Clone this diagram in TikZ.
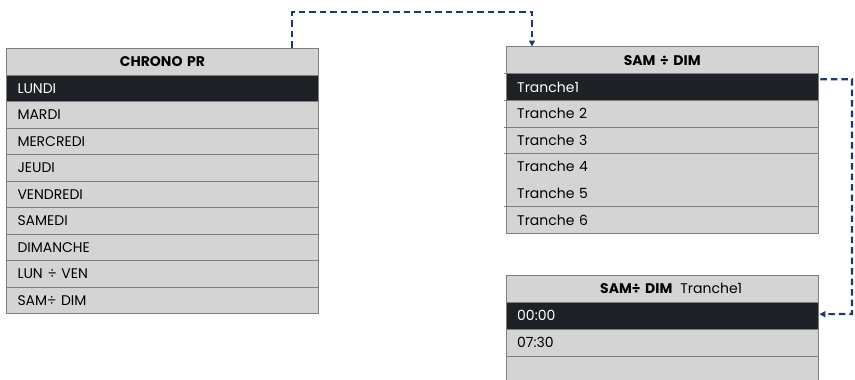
\documentclass[tikz,border=0pt]{standalone}
\usepackage{fontspec}
\setmainfont{Poppins}
\usetikzlibrary{arrows.meta,calc}
\definecolor{cellfill}{HTML}{D3D4D3}
\definecolor{cellline}{HTML}{7F7F7F}
\definecolor{darkrow}{HTML}{1E2226}
\definecolor{connblue}{HTML}{1B3B6F}
\begin{document}
\begin{tikzpicture}[x=1pt,y=-1pt,
  cellbase/.style={anchor=north west, inner xsep=11pt, inner ysep=0pt,
    text width=290pt, font=\fontsize{14}{16}\selectfont},
  lrow/.style={cellbase, align=left, fill=cellfill, draw=cellline, line width=1pt, minimum height=26.5pt},
  lhdr/.style={cellbase, align=center, fill=cellfill, draw=cellline, line width=1pt, minimum height=27pt, font=\fontsize{14}{16}\selectfont\bfseries},
  rrow/.style={cellbase, align=left, fill=cellfill, minimum height=26.6pt},
  rhdr/.style={cellbase, align=center, fill=cellfill, minimum height=27pt, font=\fontsize{14}{16}\selectfont\bfseries},
  darkcell/.style={fill=darkrow, text=white},
  sep/.style={draw=cellline, line width=1pt},
  conn/.style={draw=connblue, line width=2.2pt, dash pattern=on 6.5pt off 4pt},
  tip/.style={-{Triangle[length=6pt,width=6pt]}}
]
\clip (0,0) rectangle (855,380);
\fill[white] (0,0) rectangle (855,380);

% left table
\node[lhdr] (lh) at (6,47.5) {CHRONO PR};
\node[lrow,darkcell] (l1) at (6,74.5) {LUNDI};
\node[lrow] (l2) at (6,101) {MARDI};
\node[lrow] (l3) at (6,127.5) {MERCREDI};
\node[lrow] (l4) at (6,154) {JEUDI};
\node[lrow] (l5) at (6,180.5) {VENDREDI};
\node[lrow] (l6) at (6,207) {SAMEDI};
\node[lrow] (l7) at (6,233.5) {DIMANCHE};
\node[lrow] (l8) at (6,260) {LUN ÷ VEN};
\node[lrow] (l9) at (6,286.5) {SAM÷ DIM};

% right table
\node[rhdr] (rh) at (506,46.5) {SAM ÷ DIM};
\node[rrow,darkcell] (t1) at (506,73.5) {Tranche1};
\node[rrow] (t2) at (506,100.1) {Tranche 2};
\node[rrow] (t3) at (506,126.7) {Tranche 3};
\node[rrow] (t4) at (506,153.3) {Tranche 4};
\node[rrow] (t5) at (506,179.9) {Tranche 5};
\node[rrow] (t6) at (506,206.5) {Tranche 6};
\draw[sep] (rh.north west) rectangle (t6.south east);
\foreach \n in {rh,t1,t2,t3,t5}
  \draw[sep] ([xshift=-2pt]\n.south west) -- (\n.south east);

% bottom table
\node[rhdr] (bh) at (506,275) {\hspace*{18pt}SAM÷ DIM\hspace{8pt}\mdseries Tranche1};
\node[rrow,darkcell,minimum height=27pt] (z1) at (506,302) {00:00};
\node[rrow,minimum height=26.7pt] (z2) at (506,329) {07:30};
\node[rrow,minimum height=40pt] (z3) at (506,355.7) {};
\draw[sep] (z3.south west) -- (bh.north west) -- (bh.north east) -- (z3.south east);
\foreach \n in {bh,z1,z2}
  \draw[sep] (\n.south west) -- (\n.south east);

% connectors
\coordinate (topc) at (532,12);
\draw[conn,tip] ([xshift=286pt]lh.north west) |- (topc) -- ([xshift=26pt]rh.north west);
\coordinate (rc) at (852,314);
\draw[conn,tip] ($(t1.east)+(2,-7.8)$) -| (rc) -- ($(z1.east)+(1,-1.5)$);
\end{tikzpicture}
\end{document}
